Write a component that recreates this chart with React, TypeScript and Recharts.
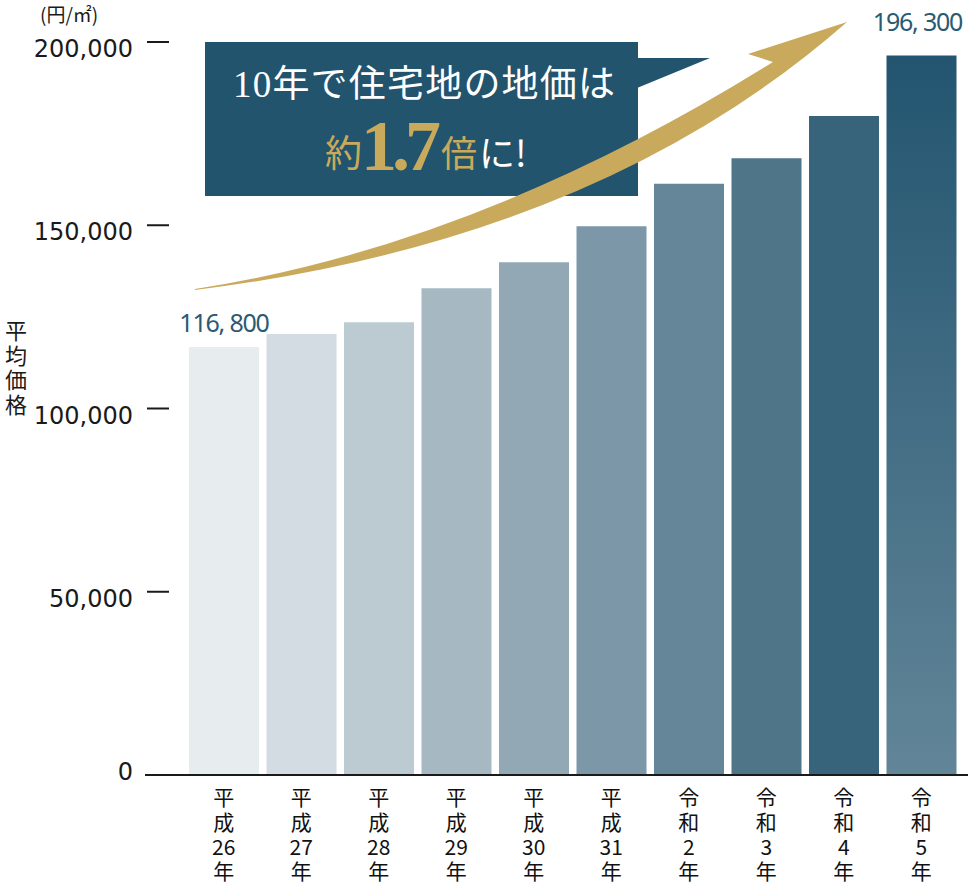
import { BarChart, Bar, XAxis, YAxis, Cell, LabelList, Customized } from 'recharts';

const years = ['平成26年', '平成27年', '平成28年', '平成29年', '平成30年', '平成31年', '令和2年', '令和3年', '令和4年', '令和5年'];
const prices = [116800, 120300, 123500, 132800, 139900, 149700, 161300, 168300, 179800, 196300];
const yTicks = [0, 50000, 100000, 150000, 200000];
const barColors = ['#e7ecef', '#d3dce2', '#bccbd2', '#a6b8c2', '#92a8b5', '#7b97a8', '#658598', '#4e7588', '#37647a', 'url(#lastBar)'];

const data = years.map((name, i) => ({ name, price: prices[i] }));

const fmtAxis = (v: number) => v.toLocaleString('en-US');
const fmtLabel = (v: number) => v.toLocaleString('en-US').replace(',', ', ');

const YTick = ({ x, y, payload }: any) => {
  const v = payload.value as number;
  return (
    <g>
      <text x={x} y={y + (v === 0 ? 5 : 15)} textAnchor="end" fontSize={24} fontFamily="DejaVu Sans" fill="#1a1a1a">
        {fmtAxis(v)}
      </text>
      {v !== 0 && <line x1={x + 14} x2={x + 36} y1={y} y2={y} stroke="#1a1a1a" strokeWidth={2} />}
    </g>
  );
};

// era label stacked vertically: 平 / 成 / 26 / 年
const XTick = ({ x, y, payload }: any) => {
  const m = /^(.)(.)(\d+)(年)$/.exec(payload.value) || [];
  const parts = m.slice(1);
  const offs = [30, 54.5, 80, 104];
  return (
    <g>
      {parts.map((p, i) => (
        <text key={i} x={x} y={y + offs[i]} textAnchor="middle" fontSize={21} fontFamily="'Noto Sans CJK JP'" fill="#111">
          {p}
        </text>
      ))}
    </g>
  );
};

const EndLabel = (props: any) => {
  const { x, y, width, value, index } = props;
  if (index !== 0 && index !== prices.length - 1) return null;
  const off = index === 0 ? 15 : 25;
  return (
    <text x={x + width / 2 - (index === 0 ? 0 : 4)} y={y - off} textAnchor="middle" fontSize={25} letterSpacing={-1.2} fontFamily="'Noto Sans'" fill="#2b5a73">
      {fmtLabel(value)}
    </text>
  );
};

const Decor = () => (
  <g>
    <text x={40} y={22} fontSize={19} fontFamily="'Noto Sans CJK JP'" fill="#1a1a1a">(円/㎡)</text>
    <text
      x={16}
      y={320}
      fontSize={22}
      letterSpacing={2.5}
      fontFamily="'Noto Sans CJK JP'"
      fill="#1a1a1a"
      style={{ writingMode: 'vertical-rl' }}
    >
      平均価格
    </text>
    <rect x={205} y={42} width={433} height={154} fill="#22546e" />
    <polygon points="637,58 710,58 637,88" fill="#22546e" />
    <text x={233} y={97} fontSize={37} letterSpacing={1.2} fill="#ffffff" fontFamily="'Liberation Serif', 'Noto Sans CJK JP'">
      10年で住宅地の地価は
    </text>
    <text x={325} y={167} fontSize={37} fill="#c9aa5c" fontFamily="'Noto Sans CJK JP'">約</text>
    <text x={361} y={170} fontSize={72} fontWeight="bold" letterSpacing={-5} fill="#c9aa5c" fontFamily="'Liberation Serif'">1.7</text>
    <text x={441} y={167} fontSize={36} fill="#c9aa5c" fontFamily="'Noto Sans CJK JP'">倍</text>
    <text x={479} y={167} fontSize={36} fill="#ffffff" fontFamily="'Noto Sans CJK JP'">に!</text>
    <path d="M195,289 Q480,245 773,62 L748,54 L847,22 Q599,240 195,290 Z" fill="#c9aa5c" />
  </g>
);

export default function App() {
  return (
    <div style={{ position: 'absolute', left: 0, top: 0, width: 972, height: 884, background: '#fff' }}>
      <BarChart width={972} height={884} data={data} margin={{ top: 42, right: 4, left: 0, bottom: 0 }}>
        <defs>
          <linearGradient id="lastBar" x1="0" y1="0" x2="0" y2="1">
            <stop offset="0%" stopColor="#235570" />
            <stop offset="100%" stopColor="#628598" />
          </linearGradient>
        </defs>
        <XAxis
          dataKey="name"
          height={109}
          padding={{ left: 40, right: 8 }}
          tickSize={0}
          tickMargin={0}
          tickLine={false}
          axisLine={{ stroke: '#1a1a1a', strokeWidth: 2 }}
          tick={<XTick />}
          interval={0}
        />
        <YAxis
          width={145}
          domain={[0, 200000]}
          ticks={yTicks}
          tickSize={0}
          tickMargin={12}
          tickLine={false}
          axisLine={false}
          tick={<YTick />}
        />
        <Bar dataKey="price" barSize={70} isAnimationActive={false}>
          {data.map((d, i) => (
            <Cell key={d.name} fill={barColors[i]} />
          ))}
          <LabelList dataKey="price" content={<EndLabel />} />
        </Bar>
        <Customized component={<Decor />} />
      </BarChart>
    </div>
  );
}
